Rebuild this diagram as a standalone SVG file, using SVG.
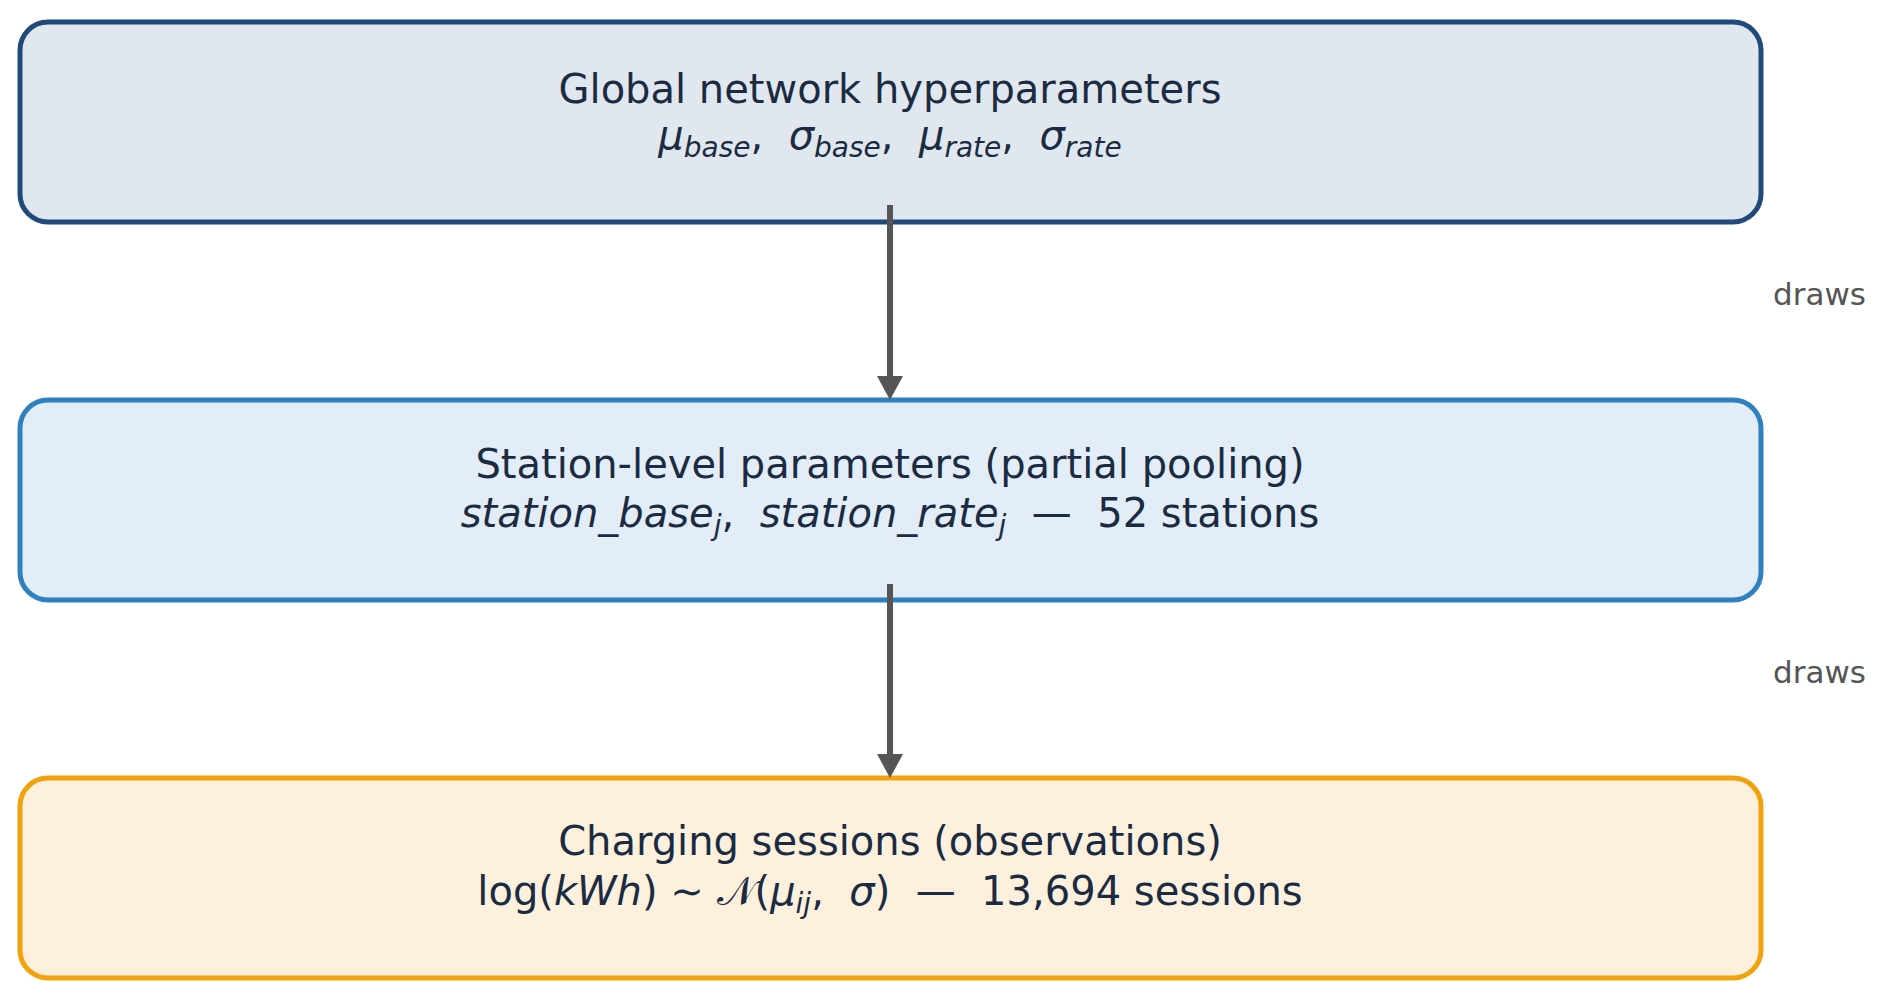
<svg xmlns="http://www.w3.org/2000/svg" width="1884" height="1000" viewBox="0 0 1884 1000">
<defs>
<style>
.box{stroke-width:5}
.t{font-family:"DejaVu Sans","Liberation Sans",sans-serif;font-size:40px;fill:#1a2b42;text-anchor:middle;white-space:pre}
.i{font-style:italic}
.s{font-size:28px}
.lbl{font-family:"DejaVu Sans","Liberation Sans",sans-serif;font-size:31px;fill:#555555}
.edge{stroke:#555555;stroke-width:6;fill:none}
</style>
<marker id="ah" markerUnits="userSpaceOnUse" viewBox="0 -13 24 26" refX="0" refY="0" markerWidth="24" markerHeight="26" orient="auto">
<path d="M0,-13 L24,0 L0,13 z" fill="#555555"/>
</marker>
</defs>
<rect width="1884" height="1000" fill="#ffffff"/>
<g id="global">
<rect class="box" x="20" y="22" width="1741" height="200" rx="28" fill="#e1e7ef" stroke="#1f4a7a"/>
<text class="t" x="890" y="103">Global network hyperparameters</text>
<text class="t" x="890" y="149"><tspan class="i">μ</tspan><tspan class="i s" dy="8">base</tspan><tspan dy="-8">,  </tspan><tspan class="i">σ</tspan><tspan class="i s" dy="8">base</tspan><tspan dy="-8">,  </tspan><tspan class="i">μ</tspan><tspan class="i s" dy="8">rate</tspan><tspan dy="-8">,  </tspan><tspan class="i">σ</tspan><tspan class="i s" dy="8">rate</tspan></text>
</g>
<g id="station">
<rect class="box" x="20" y="400" width="1741" height="200" rx="28" fill="#e2edf7" stroke="#2e80c0"/>
<text class="t" x="890" y="478">Station-level parameters (partial pooling)</text>
<text class="t" x="890" y="527"><tspan class="i">station_base</tspan><tspan class="i s" dy="8">j</tspan><tspan dy="-8">,  </tspan><tspan class="i">station_rate</tspan><tspan class="i s" dy="8">j</tspan><tspan dy="-8">  —  52 stations</tspan></text>
</g>
<g id="sessions">
<rect class="box" x="20" y="778" width="1741" height="200" rx="28" fill="#fdf1de" stroke="#f2a20c"/>
<text class="t" x="890" y="855">Charging sessions (observations)</text>
<text class="t" x="890" y="905">log(<tspan class="i">kWh</tspan>) ∼ 𝒩(<tspan class="i">μ</tspan><tspan class="i s" dy="8">ij</tspan><tspan dy="-8">,  </tspan><tspan class="i">σ</tspan>)  —  13,694 sessions</text>
</g>
<g id="connectors">
<path class="edge" d="M890,205 L890,376" marker-end="url(#ah)"/>
<path class="edge" d="M890,584 L890,754" marker-end="url(#ah)"/>
<text class="lbl" x="1773" y="305">draws</text>
<text class="lbl" x="1773" y="683">draws</text>
</g>
</svg>
